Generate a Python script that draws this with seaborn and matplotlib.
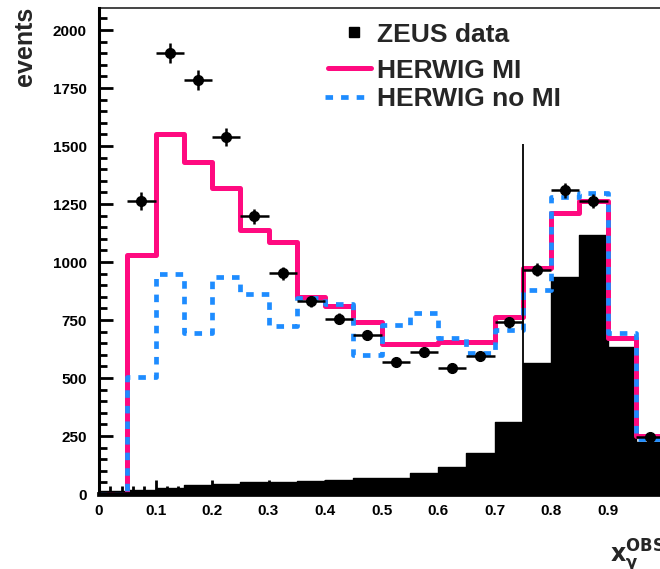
import numpy as np
import pandas as pd
import matplotlib
matplotlib.use("Agg")
import matplotlib.pyplot as plt
import seaborn as sns
from matplotlib.lines import Line2D
from matplotlib.ticker import MultipleLocator

# Binning in x_gamma^OBS (20 bins of width 0.05)
bin_edges = [0.0, 0.05, 0.1, 0.15, 0.2, 0.25, 0.3, 0.35, 0.4, 0.45, 0.5,
             0.55, 0.6, 0.65, 0.7, 0.75, 0.8, 0.85, 0.9, 0.95, 1.0]
bin_centers = [0.025, 0.075, 0.125, 0.175, 0.225, 0.275, 0.325, 0.375, 0.425, 0.475,
               0.525, 0.575, 0.625, 0.675, 0.725, 0.775, 0.825, 0.875, 0.925, 0.975]

# Monte Carlo predictions (events per bin)
herwig_mi = [0, 1030, 1550, 1430, 1320, 1140, 1085, 850, 810, 740,
             645, 645, 655, 655, 765, 975, 1210, 1265, 672, 248]
herwig_no_mi = [0, 505, 948, 694, 935, 862, 726, 845, 819, 600,
                728, 780, 672, 608, 707, 879, 1280, 1297, 694, 235]
herwig_direct = [15, 18, 25, 40, 45, 50, 52, 55, 60, 69,
                 69, 90, 116, 176, 310, 565, 935, 1116, 634, 224]

# ZEUS measurement
data_x = [0.075, 0.125, 0.175, 0.225, 0.275, 0.325, 0.375, 0.425, 0.475,
          0.525, 0.575, 0.625, 0.675, 0.725, 0.775, 0.825, 0.875, 0.975]
data_y = [1263, 1901, 1784, 1539, 1198, 952, 830, 756, 685,
          569, 612, 543, 595, 741, 966, 1310, 1263, 246]
data_err = [40, 45, 42, 38, 32, 28, 25, 24, 22,
            20, 20, 20, 20, 24, 28, 32, 32, 15]

y_ticks = [0, 250, 500, 750, 1000, 1250, 1500, 1750, 2000]
x_ticks = [0, 0.1, 0.2, 0.3, 0.4, 0.5, 0.6, 0.7, 0.8, 0.9, 1.0]
x_tick_labels = ["0", "0.1", "0.2", "0.3", "0.4", "0.5", "0.6", "0.7", "0.8", "0.9", "1"]

legend_labels = ["ZEUS data", "HERWIG MI", "HERWIG no MI"]

mc = pd.DataFrame({"x": bin_centers, "mi": herwig_mi, "nomi": herwig_no_mi,
                   "direct": herwig_direct})

sns.set_style("white")
plt.rcParams["font.family"] = ["Liberation Sans", "DejaVu Sans"]
plt.rcParams["font.weight"] = "bold"

PINK = "#ff0a80"
BLUE = "#1e8cff"
DASH = (0, (1.6, 1.7))

W, H = 660, 569
fig = plt.figure(figsize=(W / 100, H / 100), dpi=100)
ax = fig.add_axes([99 / W, 75 / H, 565 / W, 486 / H])

sns.histplot(data=mc, x="x", weights="direct", bins=bin_edges, element="step",
             fill=True, color="black", alpha=1, linewidth=1, ax=ax, zorder=1)
sns.histplot(data=mc, x="x", weights="mi", bins=bin_edges, element="step",
             fill=False, color=PINK, linewidth=3.6, ax=ax, zorder=3)
sns.histplot(data=mc, x="x", weights="nomi", bins=bin_edges, element="step",
             fill=False, color=BLUE, linewidth=3.4, linestyle=DASH,
             ax=ax, zorder=4)

ax.vlines(0.75, 0, 1510, color="black", linewidth=1.3, zorder=5)

ax.errorbar(data_x, data_y, yerr=data_err, xerr=0.025, fmt="o", color="black",
            markersize=7, elinewidth=1.8, capsize=0, zorder=6)

ax.set_xlim(0, 1)
ax.set_ylim(0, 2095)
ax.set_xticks(x_ticks)
ax.set_xticklabels(x_tick_labels)
ax.set_yticks(y_ticks)
ax.xaxis.set_minor_locator(MultipleLocator(0.02))
ax.yaxis.set_minor_locator(MultipleLocator(50))
ax.tick_params(axis="both", which="both", direction="in", left=True, bottom=True,
               right=False, top=False, colors="black")
ax.tick_params(axis="both", which="major", length=10, width=2, labelsize=11)
ax.tick_params(axis="both", which="minor", length=6, width=2)
ax.tick_params(axis="y", which="major", pad=9)
ax.tick_params(axis="x", which="major", pad=7)
for lab in ax.get_xticklabels() + ax.get_yticklabels():
    lab.set_fontweight("bold")
ax.set_xlabel("")
ax.set_ylabel("")
for side in ["left", "bottom"]:
    ax.spines[side].set_color("black")
    ax.spines[side].set_zorder(10)
ax.spines["left"].set_linewidth(2.2)
ax.spines["bottom"].set_linewidth(3.4)
for side in ["top", "right"]:
    ax.spines[side].set_linewidth(1.4)
    ax.spines[side].set_color("#444444")

fig.text(13 / W, 1 - 7 / H, "events", rotation=90, ha="left", va="top",
         fontsize=18, fontweight="bold")
fig.text(610 / W, 1 - 563 / H, r"$\mathbf{x_{\gamma}^{OBS}}$", ha="left",
         va="baseline", fontsize=17)

# Key drawn in figure pixel coordinates
def fy(py):
    return 1 - py / H

row_y = [32, 68, 97]
fig.add_artist(Line2D([354 / W], [fy(row_y[0])], marker="s", color="black",
                      linestyle="none", markersize=6.5))
fig.add_artist(Line2D([328 / W, 371 / W], [fy(row_y[1])] * 2, color=PINK,
                      linewidth=3.6))
fig.add_artist(Line2D([325 / W, 371 / W], [fy(row_y[2])] * 2, color=BLUE,
                      linewidth=3.4, linestyle=DASH))
for label, py in zip(legend_labels, row_y):
    fig.text(377 / W, fy(py), label, ha="left", va="center_baseline",
             fontsize=19, fontweight="bold")

fig.savefig("out.png", dpi=100)
